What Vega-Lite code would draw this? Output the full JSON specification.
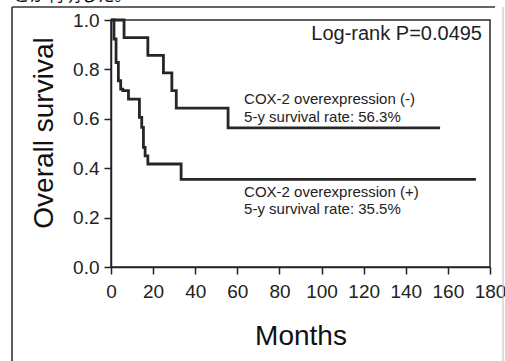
{
  "$schema": "https://vega.github.io/schema/vega-lite/v6.json",
  "width": 379,
  "height": 247,
  "autosize": {"type": "none"},
  "padding": {"left": 111, "top": 20, "right": 15, "bottom": 94},
  "background": "white",
  "config": {
    "view": {"stroke": "#2a2a2a", "strokeWidth": 1.5},
    "font": "Liberation Sans"
  },
  "datasets": {
    "km": [
      {"group": "neg", "month": 0, "survival": 1.0},
      {"group": "neg", "month": 6.2, "survival": 0.929},
      {"group": "neg", "month": 17.5, "survival": 0.857},
      {"group": "neg", "month": 24.9, "survival": 0.786},
      {"group": "neg", "month": 28.9, "survival": 0.714},
      {"group": "neg", "month": 31.0, "survival": 0.643},
      {"group": "neg", "month": 55.6, "survival": 0.563},
      {"group": "neg", "month": 156.3, "survival": 0.563},
      {"group": "pos", "month": 0, "survival": 1.0},
      {"group": "pos", "month": 1.4, "survival": 0.923},
      {"group": "pos", "month": 2.4, "survival": 0.828},
      {"group": "pos", "month": 3.5, "survival": 0.754},
      {"group": "pos", "month": 4.6, "survival": 0.72},
      {"group": "pos", "month": 5.6, "survival": 0.714},
      {"group": "pos", "month": 8.3, "survival": 0.68},
      {"group": "pos", "month": 13.5, "survival": 0.606},
      {"group": "pos", "month": 14.6, "survival": 0.565},
      {"group": "pos", "month": 15.4, "survival": 0.484},
      {"group": "pos", "month": 16.2, "survival": 0.45},
      {"group": "pos", "month": 17.5, "survival": 0.417},
      {"group": "pos", "month": 33.3, "survival": 0.355},
      {"group": "pos", "month": 173.3, "survival": 0.355}
    ],
    "notes": [
      {"month": 63.2, "survival": 0.658, "label": "COX-2 overexpression (-)\n5-y survival rate: 56.3%"},
      {"month": 63.2, "survival": 0.285, "label": "COX-2 overexpression (+)\n5-y survival rate: 35.5%"}
    ],
    "stat": [
      {"month": 176.2, "survival": 0.919, "label": "Log-rank P=0.0495"}
    ],
    "jp": [
      {"month": -46.8, "survival": 1.076, "label": "とが判明した。"}
    ],
    "frame": [
      {"month": -47.0, "month2": -47.0, "survival": 1.0526, "survival2": -0.5},
      {"month": -47.0, "month2": 182.4, "survival": 1.0526, "survival2": 1.0526}
    ],
    "frameLight": [
      {"month": 186.2, "month2": 186.2, "survival": 1.0526, "survival2": -0.5}
    ]
  },
  "layer": [
    {
      "data": {"name": "km"},
      "mark": {"type": "line", "interpolate": "step-after", "color": "#262626", "strokeWidth": 2.8},
      "encoding": {
        "x": {
          "field": "month", "type": "quantitative",
          "scale": {"domain": [0, 180], "nice": false, "zero": false},
          "axis": {
            "values": [0, 20, 40, 60, 80, 100, 120, 140, 160, 180],
            "format": "d",
            "title": "Months",
            "titleFontSize": 28,
            "titleFontWeight": "normal",
            "titleColor": "#111",
            "titleBaseline": "alphabetic",
            "titleAlign": "center",
            "titleX": 189.5,
            "titleY": 77,
            "labelFontSize": 19,
            "labelColor": "#222",
            "labelPadding": 8,
            "labelFlush": false,
            "labelOverlap": false,
            "tickSize": 7,
            "tickColor": "#222",
            "tickWidth": 1.5,
            "domainColor": "#222",
            "domainWidth": 1.5,
            "grid": false
          }
        },
        "y": {
          "field": "survival", "type": "quantitative",
          "scale": {"domain": [0, 1], "nice": false, "zero": false},
          "axis": {
            "values": [0, 0.1, 0.2, 0.3, 0.4, 0.5, 0.6, 0.7, 0.8, 0.9, 1.0],
            "labelExpr": "(round(datum.value*10) % 2 == 0) ? format(datum.value, '.1f') : ''",
            "title": "Overall survival",
            "titleFontSize": 28,
            "titleFontWeight": "normal",
            "titleColor": "#111",
            "titleAngle": -90,
            "titleBaseline": "alphabetic",
            "titleAlign": "center",
            "titleX": -59,
            "titleY": 112.5,
            "labelFontSize": 19,
            "labelColor": "#222",
            "labelPadding": 5,
            "labelFlush": false,
            "labelOverlap": false,
            "tickSize": 7,
            "tickColor": "#222",
            "tickWidth": 1.5,
            "domainColor": "#222",
            "domainWidth": 1.5,
            "grid": false
          }
        },
        "detail": {"field": "group"}
      }
    },
    {
      "data": {"name": "notes"},
      "mark": {"type": "text", "align": "left", "baseline": "alphabetic", "fontSize": 15, "lineBreak": "\n", "lineHeight": 17.4, "color": "#222"},
      "encoding": {
        "x": {"field": "month", "type": "quantitative"},
        "y": {"field": "survival", "type": "quantitative"},
        "text": {"field": "label"}
      }
    },
    {
      "data": {"name": "stat"},
      "mark": {"type": "text", "align": "right", "baseline": "alphabetic", "fontSize": 20, "color": "#222"},
      "encoding": {
        "x": {"field": "month", "type": "quantitative"},
        "y": {"field": "survival", "type": "quantitative"},
        "text": {"field": "label"}
      }
    },
    {
      "data": {"name": "jp"},
      "mark": {"type": "text", "align": "left", "baseline": "alphabetic", "fontSize": 17, "font": "Noto Sans CJK JP", "color": "#111"},
      "encoding": {
        "x": {"field": "month", "type": "quantitative"},
        "y": {"field": "survival", "type": "quantitative"},
        "text": {"field": "label"}
      }
    },
    {
      "data": {"name": "frame"},
      "mark": {"type": "rule", "color": "#333", "strokeWidth": 1.6},
      "encoding": {
        "x": {"field": "month", "type": "quantitative"},
        "x2": {"field": "month2"},
        "y": {"field": "survival", "type": "quantitative"},
        "y2": {"field": "survival2"}
      }
    },
    {
      "data": {"name": "frameLight"},
      "mark": {"type": "rule", "color": "#c8c8c8", "strokeWidth": 1.2},
      "encoding": {
        "x": {"field": "month", "type": "quantitative"},
        "x2": {"field": "month2"},
        "y": {"field": "survival", "type": "quantitative"},
        "y2": {"field": "survival2"}
      }
    }
  ]
}
